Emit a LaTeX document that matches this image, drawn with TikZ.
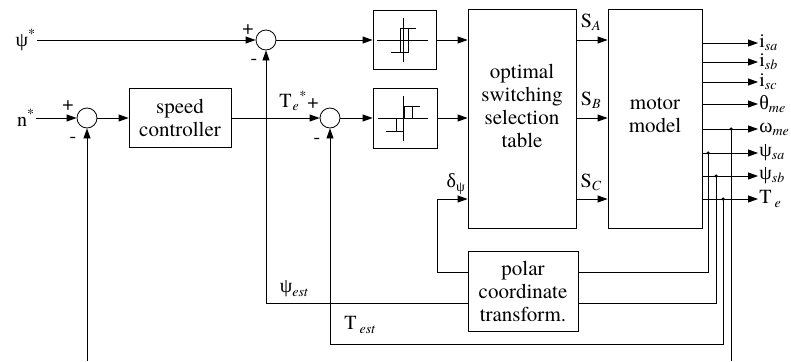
\documentclass[tikz,border=0pt]{standalone}
\usepackage{fontspec}
\setmainfont{texgyretermes}[Extension=.otf,UprightFont=*-regular,ItalicFont=*-italic,BoldFont=*-bold]
\newfontfamily\grk{Liberation Serif}
\usetikzlibrary{arrows.meta}

\newcommand{\lsub}[1]{\textsubscript{\itshape #1}}

\begin{document}
\begin{tikzpicture}[x=1pt,y=-1pt,line width=0.8pt,
  sig/.style={-{Triangle[length=10pt,width=7pt]}},
  blk/.style={draw,rectangle,inner sep=0pt},
  txt/.style={align=center,inner sep=0pt,font=\fontsize{21}{23}\selectfont},
  sumc/.style={draw,circle,minimum size=20pt,inner sep=0pt},
  lbl/.style={inner sep=1pt,font=\fontsize{20}{22}\selectfont},
  sgn/.style={inner sep=0pt,font=\fontsize{20}{20}\selectfont},
  tap/.style={circle,fill,inner sep=0pt,minimum size=3.5pt}]
\useasboundingbox (0,0) rectangle (791,361);

\node[sumc] (sum1) at (266,40) {};
\node[sumc] (sum0) at (87,118) {};
\node[sumc] (sum2) at (330,118) {};
\node[blk,minimum width=102pt,minimum height=59pt] (speed) at (180,118) {};
\node[txt] (speedtxt) at (speed.center) {speed\\controller};
\node[blk,minimum width=63pt,minimum height=59pt] (hyst1) at (404.5,40) {};
\node[blk,minimum width=64pt,minimum height=60pt] (hyst2) at (405,118) {};
\node[blk,minimum width=108pt,minimum height=219pt] (table) at (522,118.5) {};
\node[txt] (tabletxt) at (522,106) {optimal\\switching\\selection\\table};
\node[blk,minimum width=94pt,minimum height=219pt] (motor) at (655,118.5) {};
\node[txt] (motortxt) at (655,115) {motor\\model};
\node[blk,minimum width=110pt,minimum height=80pt] (polar) at (523,291) {};
\node[txt] (polartxt) at (polar.center) {polar\\coordinate\\transform.};

\coordinate (rowC) at (0,199);
\coordinate (rowdel) at (0,272);
\coordinate (rowest) at (0,303);
\coordinate (rowT) at (0,344);
\coordinate (dcol) at (437,199);
\coordinate (nfb) at (87,361);
\coordinate (omend) at (731,361);

\node[lbl,anchor=east] (psiref) at (37,40) {{\grk ψ}\textsuperscript{*}};
\node[lbl,anchor=east] (nref) at (36,118) {n\textsuperscript{*}};
\node[lbl,anchor=west,inner sep=0pt] (teref) at (279,101) {T\kern1pt\textsubscript{\itshape e}\textsuperscript{*}};
\node[lbl] (psiest) at (294,289) {{\grk ψ}\lsub{est}};
\node[lbl] (test) at (360,325) {T\kern3pt\lsub{est}};
\node[lbl] (dpsi) at (456,184) {{\grk δ}\textsubscript{\grk ψ}};
\node[lbl] (sa) at (591,22) {S\lsub{A}};
\node[lbl] (sb) at (591,100) {S\lsub{B}};
\node[lbl] (sc) at (591,182) {S\lsub{C}};

\node[sgn] (p1) at (248,30) {+};
\node[sgn] (m1) at (254,62) {-};
\node[sgn] (p0) at (68,106) {+};
\node[sgn] (m0) at (73,140) {-};
\node[sgn] (p2) at (313,104) {+};
\node[sgn] (m2) at (317,141) {-};

\draw[sig] (psiref.east) -- (sum1.west);
\draw[sig] (nref.east) -- (sum0.west);
\draw[sig] (sum0.east) -- (speed.west);
\draw[sig] (speed.east) -- (sum2.west);
\draw[sig] (sum1.east) -- (hyst1.west);
\draw[sig] (sum2.east) -- (hyst2.west);
\draw[sig] (hyst1.east) -- (table.west|-hyst1.east);
\draw[sig] (hyst2.east) -- (table.west|-hyst2.east);
\draw[sig] (table.east|-hyst1.east) -- (motor.west|-hyst1.east);
\draw[sig] (table.east|-hyst2.east) -- (motor.west|-hyst2.east);
\draw[sig] (table.east|-rowC) -- (motor.west|-rowC);

\draw (377,40) -- (428,40);
\draw (403,18) -- (403,62);
\draw (400,28) rectangle (408,52);
\draw (408,28) -- (416,28);
\draw (391,52) -- (400,52);

\draw (378,118) -- (428,118);
\draw (403,96) -- (403,141);
\draw (404,118) -- (404,106) -- (420,106);
\draw (412,106) -- (412,118);
\draw (396,118) -- (396,131);
\draw (386,131) -- (403,131);

\node[lbl,anchor=west] (isa) at (758,43) {i\lsub{sa}};
\node[lbl,anchor=west] (isb) at (758,62) {i\lsub{sb}};
\node[lbl,anchor=west] (isc) at (758,82) {i\lsub{sc}};
\node[lbl,anchor=west] (thme) at (758,104) {{\grk θ}\lsub{me}};
\node[lbl,anchor=west] (omme) at (758,129) {{\grk ω}\lsub{me}};
\node[lbl,anchor=west] (psisa) at (758,153) {{\grk ψ}\lsub{sa}};
\node[lbl,anchor=west] (psisb) at (758,176) {{\grk ψ}\lsub{sb}};
\node[lbl,anchor=west] (te) at (758,199) {T\kern3pt\lsub{e}};
\draw[sig] (motor.east|-isa) -- (isa.west);
\draw[sig] (motor.east|-isb) -- (isb.west);
\draw[sig] (motor.east|-isc) -- (isc.west);
\draw[sig] (motor.east|-thme) -- (thme.west);
\draw[sig] (motor.east|-omme) -- (omme.west);
\draw[sig] (motor.east|-psisa) -- (psisa.west);
\draw[sig] (motor.east|-psisb) -- (psisb.west);
\draw[sig] (motor.east|-te) -- (te.west);

\node[tap] (tom) at (731,129) {};
\node[tap] (tpa) at (708,153) {};
\node[tap] (tpb) at (716,176) {};
\node[tap] (tte) at (723,199) {};
\draw (tpa.center) |- (polar.east|-rowdel);
\draw (tpb.center) |- (polar.east|-rowest);
\draw[sig] (tte.center) |- (sum2|-rowT) -- (sum2.south);
\draw (tom.center) -- (omend);
\draw[sig] (nfb) -- (sum0.south);
\draw[sig] (polar.west|-rowdel) -| (dcol) -- (table.west|-dcol);
\draw[sig] (polar.west|-rowest) -| (sum1.south);
\end{tikzpicture}
\end{document}
